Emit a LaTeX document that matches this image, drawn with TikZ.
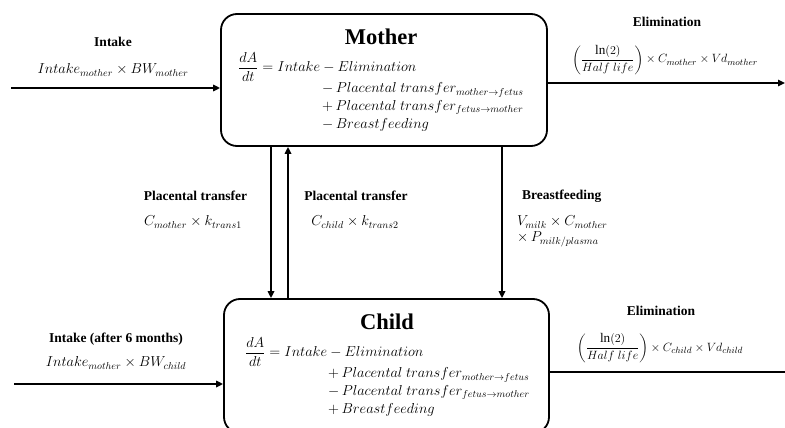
\documentclass[tikz,border=0pt]{standalone}
\usepackage{amsmath}
\usepackage{fontspec}
\setmainfont{Liberation Serif}
\usetikzlibrary{arrows.meta}
\tikzset{
  box/.style={draw, line width=1.8pt, rounded corners=16pt, inner sep=0pt},
  arr/.style={line width=1.6pt, -{Triangle[length=7pt,width=6.5pt]}},
  lbl/.style={font=\fontsize{13.5}{15}\selectfont\bfseries, inner sep=0pt},
  fml/.style={font=\fontsize{14.2}{16}\selectfont, inner sep=0pt},
  fmlb/.style={font=\fontsize{13.2}{16}\selectfont, inner sep=0pt},
  title/.style={font=\fontsize{22.5}{24}\selectfont\bfseries, inner sep=0pt},
}
\begin{document}
\begin{tikzpicture}[x=1pt,y=-1pt]
\useasboundingbox (0,0) rectangle (785,428);
\fill[white] (0,0) rectangle (785,428);
% boxes
\node[box, minimum width=326pt, minimum height=132pt] (mother) at (384,80) {};
\node[box, minimum width=325pt, minimum height=134pt] (child) at (386.5,366) {};
% mother text
\node[title] (mt) at (381,37) {Mother};
\node[fml, anchor=west] (meq) at (238,67) {$\dfrac{dA}{dt} = Intake - Elimination$};
\node[fml, anchor=west] (m1) at (322,90) {$-\,Placental\ transfer_{mother\rightarrow fetus}$};
\node[fml, anchor=west] (m2) at (322,107.5) {$+\,Placental\ transfer_{fetus\rightarrow mother}$};
\node[fml, anchor=west] (m3) at (322,125) {$-\,Breastfeeding$};
% child text
\node[title] (ct) at (387,322) {Child};
\node[fml, anchor=west] (ceq) at (245,352) {$\dfrac{dA}{dt} = Intake - Elimination$};
\node[fml, anchor=west] (c1) at (328,375) {$+\,Placental\ transfer_{mother\rightarrow fetus}$};
\node[fml, anchor=west] (c2) at (328,392.5) {$-\,Placental\ transfer_{fetus\rightarrow mother}$};
\node[fml, anchor=west] (c3) at (328,410) {$+\,Breastfeeding$};
% free ends
\coordinate (inM) at (11,88);
\coordinate (outM) at (785,83);
\coordinate (inC) at (14,384);
\coordinate (outC) at (785,372);
\coordinate (xp1) at (271,0);
\coordinate (xp2) at (288,0);
\coordinate (xbf) at (502,0);
% connectors
\draw[arr] (inM) -- (mother.west |- inM);
\draw[arr] (mother.east |- outM) -- (outM);
\draw[arr] (mother.south -| xp1) -- (child.north -| xp1);
\draw[arr] (child.north -| xp2) -- (mother.south -| xp2);
\draw[arr] (mother.south -| xbf) -- (child.north -| xbf);
\draw[arr] (inC) -- (child.west |- inC);
\draw[line width=1.6pt] (child.east |- outC) -- (outC);
% labels
\node[lbl] (l1) at (113,42) {Intake};
\node[fml] (f1) at (113,70) {$Intake_{mother} \times BW_{mother}$};
\node[lbl] (l2) at (667,22) {Elimination};
\node[fmlb] (f2) at (665,60) {$\left(\dfrac{\ln(2)}{Half\ life}\right) \times C_{mother} \times Vd_{mother}$};
\node[lbl] (l3) at (195.5,196) {Placental transfer};
\node[fml] (f3) at (193,222) {$C_{mother} \times k_{trans1}$};
\node[lbl] (l4) at (356,196) {Placental transfer};
\node[fml] (f4) at (355,222) {$C_{child} \times k_{trans2}$};
\node[lbl, anchor=west] (l5) at (522,196) {Breastfeeding};
\node[fml, anchor=west] (f5a) at (517,222) {$V_{milk} \times C_{mother}$};
\node[fml, anchor=west] (f5b) at (517,239.5) {$\times\, P_{milk/plasma}$};
\node[lbl] (l6) at (116,339) {Intake (after 6 months)};
\node[fml] (f6) at (116,363) {$Intake_{mother} \times BW_{child}$};
\node[lbl] (l7) at (661,311) {Elimination};
\node[fmlb] (f7) at (660,348) {$\left(\dfrac{\ln(2)}{Half\ life}\right) \times C_{child} \times Vd_{child}$};
\end{tikzpicture}
\end{document}
